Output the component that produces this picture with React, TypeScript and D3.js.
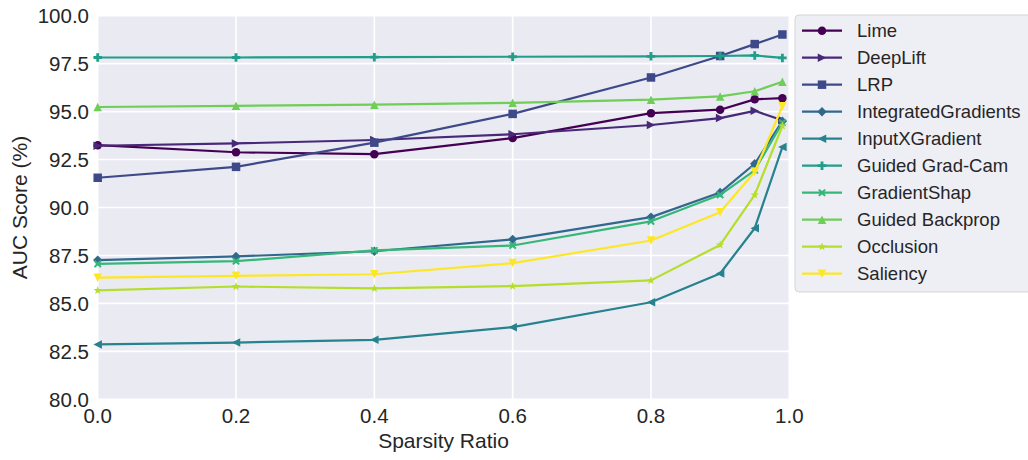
import React from "react";
import * as d3 from "d3";

const sparsity = [0, 0.2, 0.4, 0.6, 0.8, 0.9, 0.95, 0.99];
const methods = [
  "Lime",
  "DeepLift",
  "LRP",
  "IntegratedGradients",
  "InputXGradient",
  "Guided Grad-Cam",
  "GradientShap",
  "Guided Backprop",
  "Occlusion",
  "Saliency",
];
const lime = [93.25, 92.88, 92.78, 93.62, 94.92, 95.1, 95.64, 95.7];
const deepLift = [93.22, 93.34, 93.52, 93.82, 94.3, 94.66, 95.04, 94.55];
const lrp = [91.55, 92.12, 93.38, 94.88, 96.78, 97.9, 98.52, 99.02];
const integratedGradients = [87.26, 87.45, 87.72, 88.34, 89.5, 90.78, 92.28, 94.5];
const inputXGradient = [82.86, 82.96, 83.1, 83.76, 85.06, 86.56, 88.92, 93.15];
const guidedGradCam = [97.82, 97.82, 97.84, 97.86, 97.88, 97.9, 97.93, 97.8];
const gradientShap = [87.06, 87.2, 87.76, 88.02, 89.28, 90.66, 91.94, 94.42];
const guidedBackprop = [95.24, 95.3, 95.36, 95.46, 95.62, 95.79, 96.06, 96.56];
const occlusion = [85.68, 85.88, 85.78, 85.9, 86.2, 88.05, 90.66, 94.25];
const saliency = [86.34, 86.44, 86.52, 87.1, 88.28, 89.75, 91.86, 95.28];
const seriesValues = [
  lime,
  deepLift,
  lrp,
  integratedGradients,
  inputXGradient,
  guidedGradCam,
  gradientShap,
  guidedBackprop,
  occlusion,
  saliency,
];
const markers = ["o", ">", "s", "D", "<", "P", "X", "^", "*", "v"];
const colors = [
  "#440154",
  "#482878",
  "#3e4989",
  "#31688e",
  "#26828e",
  "#1f9e89",
  "#35b779",
  "#6ece58",
  "#b5de2b",
  "#fde725",
];
const xTicks = [0, 0.2, 0.4, 0.6, 0.8, 1.0];
const yTicks = [80, 82.5, 85, 87.5, 90, 92.5, 95, 97.5, 100];

const L = 97.7, R = 789.3, T = 15.7, B = 399.3;
const x = d3.scaleLinear().domain([0, 1]).range([L, R]);
const y = d3.scaleLinear().domain([80, 100]).range([B, T]);

function markerPath(m: string, s: number): string {
  const h = s / 2;
  switch (m) {
    case "o":
      return `M${h},0A${h},${h} 0 1,1 ${-h},0A${h},${h} 0 1,1 ${h},0Z`;
    case "s":
      return `M${-h},${-h}L${h},${-h}L${h},${h}L${-h},${h}Z`;
    case "D": {
      const d = h * 1.1;
      return `M0,${-d}L${d},0L0,${d}L${-d},0Z`;
    }
    case "^":
      return `M0,${-h}L${h},${h}L${-h},${h}Z`;
    case "v":
      return `M0,${h}L${h},${-h}L${-h},${-h}Z`;
    case ">":
      return `M${h},0L${-h},${-h}L${-h},${h}Z`;
    case "<":
      return `M${-h},0L${h},${-h}L${h},${h}Z`;
    case "P": {
      const a = h, w = s / 6;
      return `M${-w},${-a}L${w},${-a}L${w},${-w}L${a},${-w}L${a},${w}L${w},${w}L${w},${a}L${-w},${a}L${-w},${w}L${-a},${w}L${-a},${-w}L${-w},${-w}Z`;
    }
    case "X": {
      const a = h * 0.9, w = s / 7;
      const pts = [
        [-w, -a], [0, -a + w], [w, -a], [a, -w], [a - w, 0], [a, w], [w, a], [0, a - w], [-w, a], [-a, w], [-a + w, 0], [-a, -w],
      ];
      // rotate a plus to make X
      const p = [
        [-a + w, -a], [0, -w * 1.4], [a - w, -a], [a, -a + w], [w * 1.4, 0], [a, a - w], [a - w, a], [0, w * 1.4], [-a + w, a], [-a, a - w], [-w * 1.4, 0], [-a, -a + w],
      ];
      void pts;
      return "M" + p.map((q) => q.join(",")).join("L") + "Z";
    }
    case "*": {
      const ro = h * 1.05, ri = ro * 0.4;
      const p: string[] = [];
      for (let i = 0; i < 10; i++) {
        const r = i % 2 === 0 ? ro : ri;
        const ang = -Math.PI / 2 + (i * Math.PI) / 5;
        p.push(`${(r * Math.cos(ang)).toFixed(2)},${(r * Math.sin(ang)).toFixed(2)}`);
      }
      return "M" + p.join("L") + "Z";
    }
  }
  return "";
}

const MS = 8.5;

export default function App() {
  const line = d3
    .line<number>()
    .x((_, i) => x(sparsity[i]))
    .y((d) => y(d));
  const font = "'Liberation Sans', Arial, sans-serif";
  const textColor = "#262626";
  const legX = 795, legY = 15, rowH = 27, firstRow = 30.7;
  return (
    <svg
      width={1028}
      height={460}
      style={{ position: "absolute", left: 0, top: 0 }}
      fontFamily={font}
    >
      <rect x={0} y={0} width={1028} height={460} fill="#ffffff" />
      <rect x={L} y={T} width={R - L} height={B - T} fill="#EAEAF2" />
      {xTicks.map((t) => (
        <line key={"gx" + t} x1={x(t)} x2={x(t)} y1={T} y2={B} stroke="#fff" strokeWidth={1.6} />
      ))}
      {yTicks.map((t) => (
        <line key={"gy" + t} x1={L} x2={R} y1={y(t)} y2={y(t)} stroke="#fff" strokeWidth={1.6} />
      ))}
      {seriesValues.map((vals, si) => (
        <g key={methods[si]}>
          <path d={line(vals) || ""} fill="none" stroke={colors[si]} strokeWidth={2.2} strokeLinejoin="round" />
          {vals.map((v, i) => (
            <path
              key={i}
              d={markerPath(markers[si], MS)}
              transform={`translate(${x(sparsity[i])},${y(v)})`}
              fill={colors[si]}
            />
          ))}
        </g>
      ))}
      {xTicks.map((t) => (
        <text key={"tx" + t} x={x(t)} y={423} textAnchor="middle" fontSize={20.5} fill={textColor}>
          {t.toFixed(1)}
        </text>
      ))}
      {yTicks.map((t) => (
        <text key={"ty" + t} x={89} y={y(t) + 7.3} textAnchor="end" fontSize={20.5} fill={textColor}>
          {t.toFixed(1)}
        </text>
      ))}
      <text x={(L + R) / 2} y={448} textAnchor="middle" fontSize={21} fill={textColor}>
        Sparsity Ratio
      </text>
      <text
        transform={`translate(27,${(T + B) / 2}) rotate(-90)`}
        textAnchor="middle"
        fontSize={21}
        fill={textColor}
      >
        AUC Score (%)
      </text>
      <rect
        x={legX}
        y={legY}
        width={250}
        height={277}
        rx={4}
        fill="#EEEEF5"
        stroke="#d5d5d8"
        strokeWidth={1}
      />
      {methods.map((m, i) => {
        const cy = firstRow + i * rowH;
        return (
          <g key={"leg" + m}>
            <line x1={802} x2={842} y1={cy} y2={cy} stroke={colors[i]} strokeWidth={2.2} />
            <path d={markerPath(markers[i], MS)} transform={`translate(822,${cy})`} fill={colors[i]} />
            <text x={857} y={cy + 6.6} fontSize={18.5} fill={textColor}>
              {m}
            </text>
          </g>
        );
      })}
    </svg>
  );
}
